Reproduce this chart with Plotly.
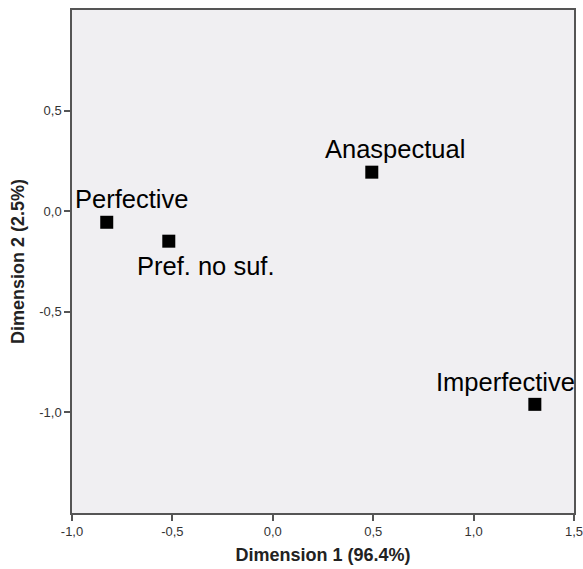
import plotly.graph_objects as go

categories = ["Perfective", "Pref. no suf.", "Anaspectual", "Imperfective"]
dim1 = [-0.827, -0.518, 0.493, 1.305]
dim2 = [-0.055, -0.149, 0.194, -0.960]
label_dx = [25, 37, 23, -29]
label_dy = [23, -25, 23, 22]

x_tickvals = [-1.0, -0.5, 0.0, 0.5, 1.0, 1.5]
x_ticktext = ["-1,0", "-0,5", "0,0", "0,5", "1,0", "1,5"]
y_tickvals = [-1.0, -0.5, 0.0, 0.5]
y_ticktext = ["-1,0", "-0,5", "0,0", "0,5"]

fig = go.Figure()
fig.add_trace(go.Scatter(
    x=dim1, y=dim2, mode="markers",
    marker=dict(symbol="square", size=13, color="black"),
    hoverinfo="text", text=categories, showlegend=False,
))
for c, x, y, dx, dy in zip(categories, dim1, dim2, label_dx, label_dy):
    fig.add_annotation(x=x, y=y, text=c, showarrow=False, xshift=dx, yshift=dy,
                       font=dict(family="Liberation Sans, Arial", size=25.5, color="black"))

axis_common = dict(showgrid=False, zeroline=False, showline=True, linecolor="#555555",
                   linewidth=1.5, mirror=True, ticks="outside", ticklen=6,
                   tickcolor="#555555", tickwidth=1.5, automargin=False,
                   ticklabeloverflow="allow",
                   tickfont=dict(family="Liberation Sans, Arial", size=13, color="#333333"))

fig.update_layout(
    width=583, height=569,
    margin=dict(l=72, r=9, t=10, b=56),
    paper_bgcolor="white", plot_bgcolor="#F0EFF2",
    xaxis=dict(range=[-1.0, 1.5], tickvals=x_tickvals, ticktext=x_ticktext,
               title=dict(text="<b>Dimension 1 (96.4%)</b>", standoff=10,
                          font=dict(family="Liberation Sans, Arial", size=18, color="#222222")),
               **axis_common),
    yaxis=dict(range=[-1.5, 1.0], tickvals=y_tickvals, ticktext=y_ticktext,
               title=dict(text="<b>Dimension 2 (2.5%)</b>", standoff=10,
                          font=dict(family="Liberation Sans, Arial", size=18, color="#222222")),
               **axis_common),
)

fig.write_html("out.html", config={"displayModeBar": False},
               post_script="document.body.style.margin='0';document.body.style.overflow='hidden';")
